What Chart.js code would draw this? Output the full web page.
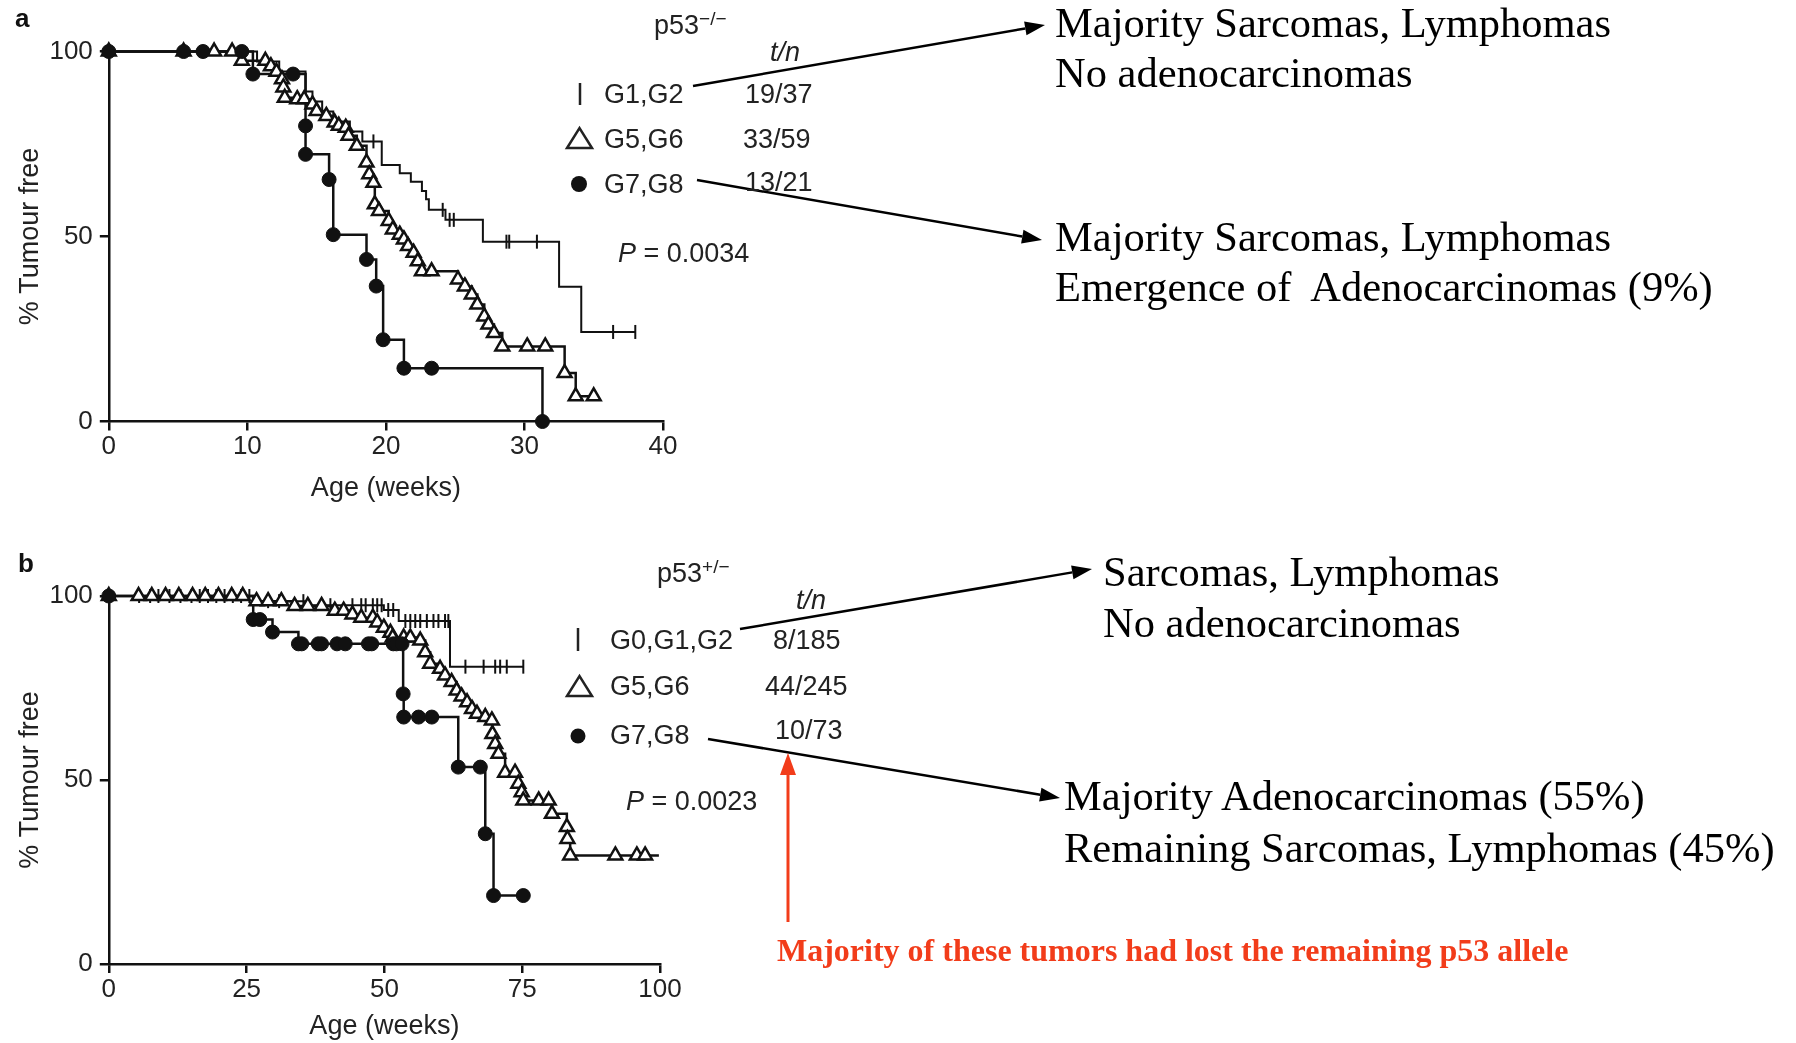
<!DOCTYPE html>
<html>
<head>
<meta charset="utf-8">
<script src="https://cdn.jsdelivr.net/npm/chart.js@4.4.1/dist/chart.umd.min.js"></script>
<style>
  body { margin: 0; background: #fff; width: 1796px; height: 1043px; position: relative; overflow: hidden;
         font-family: "Liberation Sans", Arial, sans-serif; color: #222; }
  canvas { position: absolute; left: 0; }
  #svg { position: absolute; left: 0; top: 0; }
  .t { position: absolute; white-space: pre; line-height: 1; transform: translateY(-50%); }
  .lg { font-size: 27px; }
  .panel { font-size: 26px; font-weight: bold; color: #111; }
  .note { font-family: "Liberation Serif", "Times New Roman", serif; font-size: 42.5px; color: #000; }
  .red { font-family: "Liberation Serif", "Times New Roman", serif; font-size: 32px; font-weight: bold; color: #f23c1a; }
  sup { font-size: 19px; vertical-align: 9px; }
</style>
</head>
<body>
<canvas id="chartA" width="720" height="505" style="top:0"></canvas>
<canvas id="chartB" width="720" height="503" style="top:540px"></canvas>
<svg id="svg" width="1796" height="1043"></svg>

<div class="t panel" style="left:15px;top:18px">a</div>
<div class="t lg" style="left:654px;top:24px">p53<sup>−/−</sup></div>
<div class="t lg" style="left:770px;top:52px;font-style:italic">t/n</div>
<div class="t lg" style="left:604px;top:94px">G1,G2</div>
<div class="t lg" style="left:745px;top:94px">19/37</div>
<div class="t lg" style="left:604px;top:139px">G5,G6</div>
<div class="t lg" style="left:743px;top:139px">33/59</div>
<div class="t lg" style="left:604px;top:184px">G7,G8</div>
<div class="t lg" style="left:745px;top:182px">13/21</div>
<div class="t lg" style="left:618px;top:253px"><i>P</i> = 0.0034</div>

<div class="t panel" style="left:18px;top:563px">b</div>
<div class="t lg" style="left:657px;top:572px">p53<sup>+/−</sup></div>
<div class="t lg" style="left:796px;top:600px;font-style:italic">t/n</div>
<div class="t lg" style="left:610px;top:640px">G0,G1,G2</div>
<div class="t lg" style="left:773px;top:640px">8/185</div>
<div class="t lg" style="left:610px;top:686px">G5,G6</div>
<div class="t lg" style="left:765px;top:686px">44/245</div>
<div class="t lg" style="left:610px;top:735px">G7,G8</div>
<div class="t lg" style="left:775px;top:730px">10/73</div>
<div class="t lg" style="left:626px;top:801px"><i>P</i> = 0.0023</div>

<div class="t note" style="left:1055px;top:23px">Majority Sarcomas, Lymphomas</div>
<div class="t note" style="left:1055px;top:73px">No adenocarcinomas</div>
<div class="t note" style="left:1055px;top:237px">Majority Sarcomas, Lymphomas</div>
<div class="t note" style="left:1055px;top:287px">Emergence of  Adenocarcinomas (9%)</div>
<div class="t note" style="left:1103px;top:572px">Sarcomas, Lymphomas</div>
<div class="t note" style="left:1103px;top:623px">No adenocarcinomas</div>
<div class="t note" style="left:1064px;top:796px">Majority Adenocarcinomas (55%)</div>
<div class="t note" style="left:1064px;top:848px">Remaining Sarcomas, Lymphomas (45%)</div>
<div class="t red" style="left:777px;top:950px">Majority of these tumors had lost the remaining p53 allele</div>

<script>
// ---- panel a : p53-/- ----
const aTicksX = [0, 10, 20, 30, 40];

const aG12Weeks = [0, 10.7, 12.3, 14.2, 14.7, 15.4, 16.2, 17.4, 18.3, 19.7, 21.0, 21.8, 22.6, 22.9, 23.1, 24.3, 27.0, 32.5, 34.1, 38.0];
const aG12Pct   = [100, 97.3, 94.6, 89.2, 86.5, 83.8, 81.1, 78.4, 75.7, 69.3, 67.1, 64.8, 62.3, 60.1, 57.2, 54.5, 48.6, 36.4, 24.2, 24.2];
const aG12CensWeeks = [19.1, 24.1, 24.6, 24.9, 28.7, 28.9, 30.9, 36.4, 38.0];
const aG12CensPct   = [75.7, 57.2, 54.5, 54.5, 48.6, 48.6, 48.6, 24.2, 24.2];

const aG56Weeks = [0, 5.4, 7.6, 8.9, 9.6, 11.3, 11.7, 12.1, 12.5, 12.6, 12.7, 13.6, 14.1, 14.7, 15.0, 15.7,
                   16.3, 16.6, 17.1, 17.3, 17.9, 18.6, 18.8, 19.1, 19.2, 19.5, 20.2, 20.5, 21.0, 21.3, 21.6,
                   22.0, 22.3, 22.6, 23.3, 25.2, 25.7, 26.2, 26.6, 27.1, 27.4, 27.8, 28.4, 30.2, 31.5, 32.9, 33.7, 35.0];
const aG56Pct   = [100, 100, 100, 100, 97.5, 97.5, 96.0, 94.5, 92.5, 90.3, 87.5, 87.1, 87.1, 85.7, 83.9, 82.6,
                   80.8, 79.9, 79.4, 77.2, 74.5, 70.0, 66.8, 64.5, 58.7, 56.9, 54.2, 51.9, 50.5, 49.2, 47.4,
                   45.6, 43.3, 40.6, 40.6, 38.4, 36.5, 34.3, 31.6, 28.4, 26.2, 23.9, 20.3, 20.3, 20.3, 13.1, 6.8, 6.8];

const aG78Weeks = [0, 5.4, 6.8, 9.6, 10.4, 13.3, 14.2, 14.2, 15.9, 16.2, 18.6, 19.3, 19.8, 21.3, 23.3, 31.3];
const aG78Pct   = [100, 100, 100, 100, 93.9, 93.9, 79.9, 72.2, 65.4, 50.5, 43.8, 36.6, 22.1, 14.4, 14.4, 0];

// ---- panel b : p53+/- ----
const bTicksX = [0, 25, 50, 75, 100];

const bG012Weeks = [0, 26.2, 36.1, 49.9, 52.6, 61.9, 75.2];
const bG012Pct   = [100, 98.6, 97.5, 96.2, 93.2, 80.8, 80.8];
const bG012CensWeeks = [5.5, 7.5, 9, 11, 13, 15, 16.5, 18, 19.5, 21, 22.5, 24, 25.5,
                        28.9, 30.9, 35.3, 40.2, 44.2, 45.8, 46.6, 47.9, 48.7, 49.5, 50.7, 51.6,
                        53.8, 54.7, 55.6, 56.5, 57.7, 58.9, 59.8, 61.0, 61.6, 64.7, 68.0, 70.1, 71.0, 72.2, 75.2];
const bG012CensPct   = [100, 100, 100, 100, 100, 100, 100, 100, 100, 100, 100, 100, 100,
                        98.6, 98.6, 98.6, 97.5, 97.5, 97.5, 97.5, 97.5, 97.5, 97.5, 96.2, 96.2,
                        93.2, 93.2, 93.2, 93.2, 93.2, 93.2, 93.2, 93.2, 93.2, 80.8, 80.8, 80.8, 80.8, 80.8, 80.8];

const bG56Weeks = [0, 5.4, 7.8, 10.3, 12.7, 15.2, 17.5, 19.9, 22.3, 24.3, 26.8, 28.9, 31.3, 33.7, 36.1, 38.6,
                   41.0, 42.6, 44.2, 45.8, 47.9, 48.7, 49.9, 51.1, 51.5, 53.5, 54.7, 56.5, 57.4, 58.3, 60.1,
                   61.0, 62.2, 63.1, 64.0, 65.0, 65.9, 66.8, 68.3, 69.5, 69.6, 70.1, 70.7, 71.9, 73.7, 74.3,
                   74.9, 75.2, 78.0, 79.8, 80.4, 83.1, 83.2, 83.7, 91.9, 95.8, 97.3];
const bG56Pct   = [100, 100, 100, 100, 100, 100, 100, 100, 100, 100, 98.6, 98.6, 98.6, 97.3, 97.3, 97.3,
                   96.0, 96.0, 95.0, 94.1, 94.1, 92.8, 91.4, 90.0, 88.7, 88.7, 88.7, 87.9, 84.7, 81.6, 80.2,
                   78.4, 76.6, 74.3, 72.7, 71.1, 69.3, 68.0, 67.1, 66.2, 62.5, 59.8, 57.1, 52.0, 52.0, 49.0,
                   46.7, 44.4, 44.4, 44.4, 40.8, 37.2, 34.0, 29.5, 29.5, 29.5, 29.5];
const bG56LineEnd = 99.8;

const bG78Weeks = [0, 26.2, 27.4, 29.7, 34.4, 35.0, 38.0, 38.6, 41.4, 42.9, 47.1, 47.7, 51.6, 52.2, 53.2,
                   53.4, 53.5, 56.2, 58.6, 63.4, 67.4, 68.3, 69.8, 75.2];
const bG78Pct   = [100, 93.6, 93.6, 90.2, 87.0, 87.0, 87.0, 87.0, 87.0, 87.0, 87.0, 87.0, 87.0, 87.0, 87.0,
                   73.4, 67.1, 67.1, 67.1, 53.5, 53.5, 35.4, 18.6, 18.6];

const ticksY = [0, 50, 100];

const ink = '#111';
const sans = '"Liberation Sans", Arial, sans-serif';

const pts = (xs, ys) => xs.map((x, i) => ({ x: x, y: ys[i] }));

// Kaplan-Meier staircase: hold the value, then drop at the next time
const stepLine = (data, width) => ({
  data: data, showLine: true, stepped: 'before', borderColor: ink, borderWidth: width,
  pointRadius: 0, clip: false, order: 2,
});

const marks = (data, style) => Object.assign({
  data: data, showLine: false, clip: false, order: 1,
  borderColor: ink, pointBorderColor: ink,
}, style);

const censorStyle = { pointStyle: 'line', rotation: 90, pointRadius: 7, pointBorderWidth: 2 };
const triStyle = { pointStyle: 'triangle', pointRadius: 8, pointBackgroundColor: '#fff', pointBorderWidth: 2.5 };
const dotStyle = { pointStyle: 'circle', pointRadius: 7, pointBackgroundColor: ink, pointBorderWidth: 1 };

const makeChart = (id, tickList, pad, xAxisH, datasets) => {
  const xMax = tickList[tickList.length - 1];
  return new Chart(document.getElementById(id), {
    type: 'scatter',
    data: { datasets: datasets },
    options: {
      responsive: false,
      animation: false,
      events: [],
      layout: { padding: pad },
      plugins: { legend: { display: false }, tooltip: { enabled: false } },
      scales: {
        x: {
          type: 'linear', min: 0, max: xMax,
          afterBuildTicks: (s) => { s.ticks = tickList.map((v) => ({ value: v })); },
          afterFit: (s) => { s.height = xAxisH; },
          ticks: { color: '#222', padding: 1, maxRotation: 0, font: { family: sans, size: 26 } },
          grid: { drawOnChartArea: false, drawTicks: true, tickLength: 9, color: ink, lineWidth: 2.5 },
          border: { color: ink, width: 2.5 },
          title: { display: true, text: 'Age (weeks)', color: '#222', padding: 0, font: { family: sans, size: 27 } },
        },
        y: {
          type: 'linear', min: 0, max: 100,
          afterBuildTicks: (s) => { s.ticks = ticksY.map((v) => ({ value: v })); },
          afterFit: (s) => { s.width = 108.8; },
          ticks: { color: '#222', padding: 7, font: { family: sans, size: 26 } },
          grid: { drawOnChartArea: false, drawTicks: true, tickLength: 9, color: ink, lineWidth: 2.5 },
          border: { color: ink, width: 2.5 },
          title: { display: true, text: '% Tumour free', color: '#222', padding: { top: 14, bottom: 0 }, font: { family: sans, size: 27 } },
        },
      },
    },
  });
};

makeChart('chartA', aTicksX, { top: 51.5, right: 57, left: 0, bottom: 0 }, 83.5, [
  marks(pts(aG78Weeks, aG78Pct), dotStyle),
  marks(pts(aG56Weeks, aG56Pct), triStyle),
  marks(pts(aG12CensWeeks, aG12CensPct), censorStyle),
  stepLine(pts(aG12Weeks, aG12Pct), 2),
  stepLine(pts(aG56Weeks, aG56Pct), 2.5),
  stepLine(pts(aG78Weeks, aG78Pct), 2.5),
]);

makeChart('chartB', bTicksX, { top: 56, right: 60, left: 0, bottom: 0 }, 79, [
  marks(pts(bG78Weeks, bG78Pct), dotStyle),
  marks(pts(bG56Weeks, bG56Pct), triStyle),
  marks(pts(bG012CensWeeks, bG012CensPct), censorStyle),
  stepLine(pts(bG012Weeks, bG012Pct), 2),
  stepLine(pts(bG56Weeks.concat([bG56LineEnd]), bG56Pct.concat([bG56Pct[bG56Pct.length - 1]])), 2.5),
  stepLine(pts(bG78Weeks, bG78Pct), 2.5),
]);

// ---- legend symbols and annotation arrows ----
const svg = document.getElementById('svg');
const NS = 'http://www.w3.org/2000/svg';
const add = (tag, attrs) => {
  const el = document.createElementNS(NS, tag);
  for (const k in attrs) el.setAttribute(k, attrs[k]);
  svg.appendChild(el);
};

const arrow = (x1, y1, x2, y2, color, w, len, half) => {
  const a = Math.atan2(y2 - y1, x2 - x1);
  const bx = x2 - len * Math.cos(a), by = y2 - len * Math.sin(a);
  add('line', { x1: x1, y1: y1, x2: bx, y2: by, stroke: color, 'stroke-width': w });
  const p = [[x2, y2], [bx + half * Math.sin(a), by - half * Math.cos(a)], [bx - half * Math.sin(a), by + half * Math.cos(a)]];
  add('polygon', { points: p.map((q) => q.join(',')).join(' '), fill: color });
};

// legend keys, panel a
add('line', { x1: 580, y1: 83, x2: 580, y2: 105, stroke: '#222', 'stroke-width': 2.5 });
add('polygon', { points: '567,148 592,148 579.5,128', fill: 'none', stroke: '#222', 'stroke-width': 2.5 });
add('circle', { cx: 579, cy: 184, r: 8, fill: '#111' });
// legend keys, panel b
add('line', { x1: 578, y1: 628, x2: 578, y2: 651, stroke: '#222', 'stroke-width': 2.5 });
add('polygon', { points: '567,696 592,696 579.5,676', fill: 'none', stroke: '#222', 'stroke-width': 2.5 });
add('circle', { cx: 578, cy: 736, r: 7.5, fill: '#111' });

arrow(693, 86, 1045, 25, '#000', 2.5, 20, 7);
arrow(697, 180, 1042, 240, '#000', 2.5, 20, 7);
arrow(740, 629, 1092, 569, '#000', 2.5, 20, 7);
arrow(708, 739, 1060, 798, '#000', 2.5, 20, 7);
arrow(788, 922, 788, 753, '#f23c1a', 3, 22, 8);
</script>
</body>
</html>
